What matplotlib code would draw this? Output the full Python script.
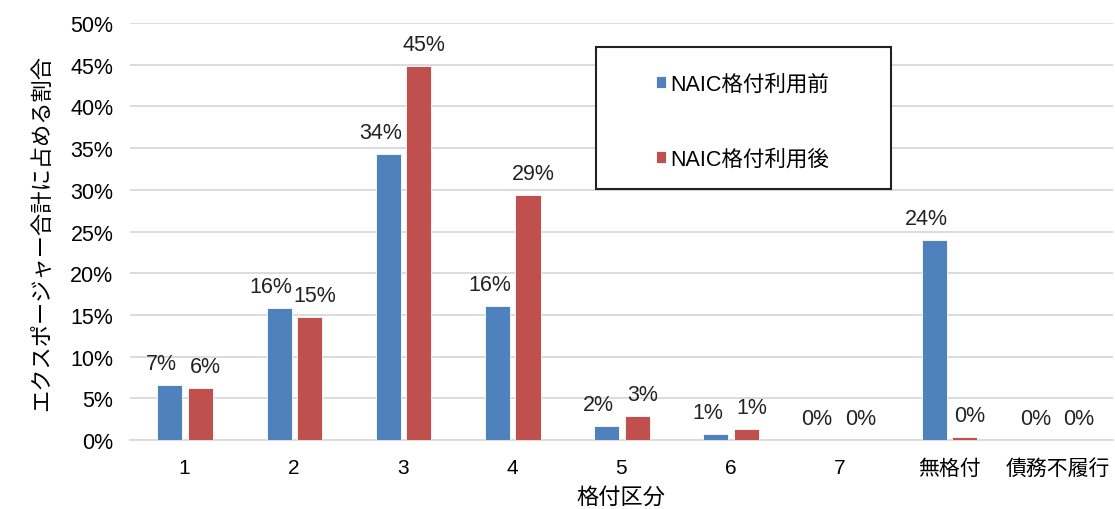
import numpy as np
import matplotlib.pyplot as plt
from matplotlib.patches import Rectangle
from matplotlib.ticker import PercentFormatter

plt.rcParams['font.family'] = ['Liberation Sans', 'Noto Sans CJK JP']

categories = ['1', '2', '3', '4', '5', '6', '7', '無格付', '債務不履行']
before = [0.066, 0.158, 0.343, 0.161, 0.017, 0.007, 0.0, 0.240, 0.0]
after = [0.062, 0.147, 0.449, 0.294, 0.029, 0.013, 0.0, 0.0035, 0.0]
series_names = ['NAIC格付利用前', 'NAIC格付利用後']

blue = '#4F81BD'
red = '#C0504D'

fig = plt.figure(figsize=(11.15, 5.10), dpi=100)
ax = fig.add_axes([0.1166, 0.135, 0.8814, 0.818])

x = np.arange(len(categories))
w = 0.23
b1 = ax.bar(x - 0.135, before, w, color=blue, edgecolor='white', linewidth=0.6,
            label=series_names[0], zorder=3)
b2 = ax.bar(x + 0.145, after, w, color=red, edgecolor='white', linewidth=0.6,
            label=series_names[1], zorder=3)

# value labels, nudged apart so neighbouring pairs don't collide
for bars, vals, dx in ((b1, before, -8), (b2, after, 5)):
    for rect, v in zip(bars, vals):
        ax.annotate(f'{v * 100:.0f}%', (rect.get_x() + rect.get_width() / 2, v),
                    xytext=(dx, 11), textcoords='offset pixels',
                    ha='center', va='bottom', fontsize=15.5, color='#222222')

ax.set_xlim(-0.5, len(categories) - 0.5)
ax.set_ylim(0, 0.5)
ax.set_yticks(np.arange(0, 0.51, 0.05))
ax.yaxis.set_major_formatter(PercentFormatter(1.0, decimals=0))
ax.set_xticks(x)
ax.set_xticklabels(categories)
ax.tick_params(axis='y', length=0, labelsize=15.5, pad=12)
ax.tick_params(axis='x', length=0, labelsize=15, pad=13)

ax.grid(axis='y', color='#d9d9d9', linewidth=1.3, zorder=0)
for s in ('top', 'right', 'left'):
    ax.spines[s].set_visible(False)
ax.spines['bottom'].set_color('#d9d9d9')
ax.spines['bottom'].set_linewidth(1.3)

ax.set_ylabel('エクスポージャー合計に占める割合', fontsize=16, labelpad=12)
ax.set_xlabel('格付区分', fontsize=16, labelpad=6)

ax.add_patch(Rectangle((0.474, 0.602), 0.3, 0.34, transform=ax.transAxes,
                       facecolor='white', edgecolor='#222222', linewidth=1.5,
                       zorder=4))
leg = ax.legend(loc='upper left', bbox_to_anchor=(0.515, 0.925), frameon=False,
                fontsize=15.5, handlelength=0.5, handleheight=0.5,
                handletextpad=0.2, labelspacing=2.5)
leg.set_zorder(5)

fig.savefig('out.png', dpi=100)
